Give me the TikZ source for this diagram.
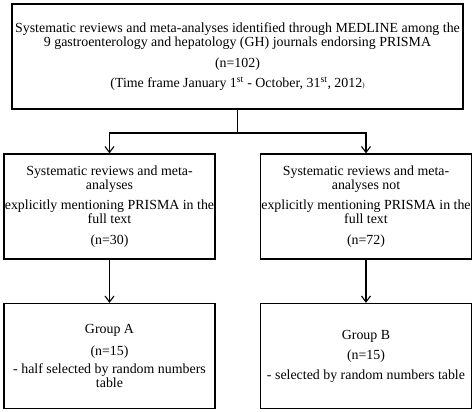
\documentclass[tikz,border=0pt]{standalone}
\usepackage{fontspec}
\setmainfont{Liberation Serif}
\usetikzlibrary{arrows.meta}
\begin{document}
\begin{tikzpicture}[x=1pt,y=-1pt,
  box/.style={draw=black,line width=1.2pt,rectangle,inner sep=0pt,align=center,
    minimum height=105pt,font=\fontsize{13.9}{14}\selectfont},
  topbox/.style={box,minimum width=451pt},
  sidebox/.style={box,minimum width=211pt},
  conn/.style={line width=1.1pt},
  arr/.style={conn,-{Straight Barb[length=6pt,width=9pt,line width=1.1pt]}}]
\useasboundingbox (0,0) rectangle (474,412);
\node[topbox] (top) at (237.5,56.5) {Systematic reviews and meta-analyses identified through MEDLINE among the\\
9 gastroenterology and hepatology (GH) journals endorsing PRISMA\\[7pt]
(n=102)\\[6pt]
(Time frame January 1\textsuperscript{st} - October, 31\textsuperscript{st}, 2012{\scriptsize)}};
\node[sidebox] (ma) at (109.5,206.5) {Systematic reviews and meta-\\
analyses\\[6pt]
explicitly mentioning PRISMA in the\\
full text\\[7pt]
(n=30)};
\node[sidebox] (mb) at (366,206.5) {Systematic reviews and meta-\\
analyses not\\[6pt]
explicitly mentioning PRISMA in the\\
full text\\[7pt]
(n=72)};
\node[sidebox] (ba) at (109.5,356) {Group A\\[8pt]
(n=15)\\[4pt]
- half selected by random numbers\\
table};
\node[sidebox] (bb) at (366,356) {Group B\\[6pt]
(n=15)\\[6pt]
- selected by random numbers table};
\coordinate (j) at (237.5,133);
\draw[conn] (top.south) -- (j);
\draw[arr] (j) -| (ma.north);
\draw[arr] (j) -| (mb.north);
\draw[arr] (ma.south) -- (ba.north);
\draw[arr] (mb.south) -- (bb.north);
\end{tikzpicture}
\end{document}
